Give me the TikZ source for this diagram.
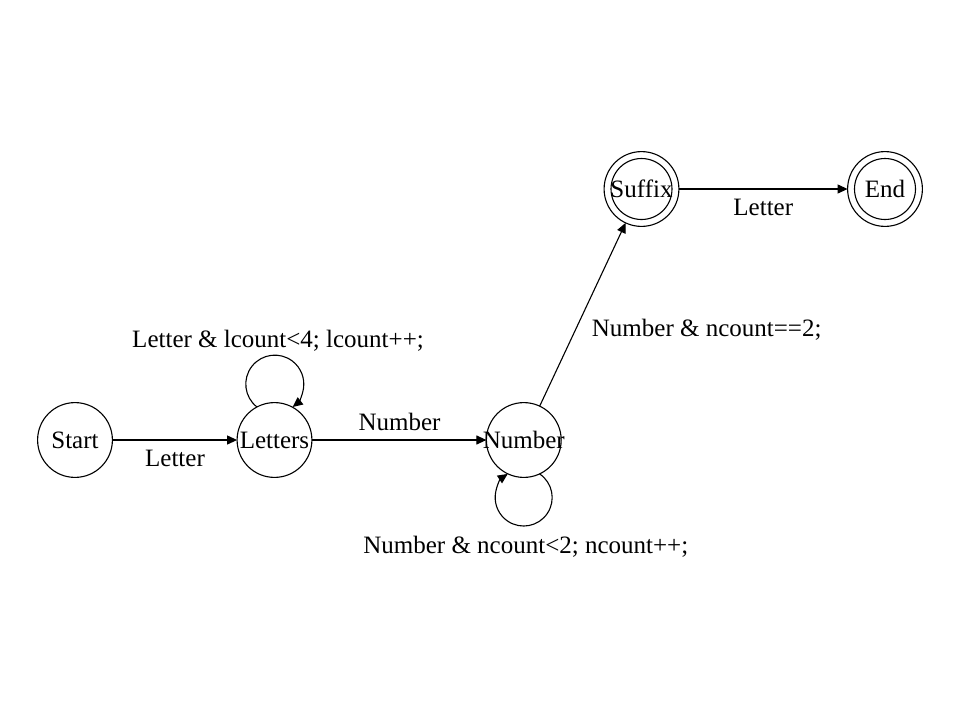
\documentclass[tikz,border=0pt]{standalone}
\usepackage{fontspec}
\setmainfont{Liberation Serif}
\usetikzlibrary{arrows.meta}
\tikzset{
  txt/.style={font=\fontsize{25}{30}\selectfont},
  statenode/.style={circle, draw, line width=1.1pt, minimum size=74.8pt, inner sep=0pt, outer sep=0pt, txt},
  innerring/.style={line width=1.1pt},
  arr/.style={line width=1.1pt, -{Triangle[length=10pt,width=9pt]}},
  lbl/.style={txt, anchor=base, inner sep=0pt}
}
\begin{document}
\begin{tikzpicture}[x=1pt,y=1pt]
\useasboundingbox (0,0) rectangle (974,-725);
% states
\node[statenode] (Start) at (75,-440) {\makebox[0pt]{Start}};
\node[statenode] (Letters) at (274.5,-440) {\makebox[0pt]{Letters}};
\node[statenode] (Number) at (523.8,-440) {\makebox[0pt]{Number}};
\node[statenode] (Suffix) at (641.5,-189) {\makebox[0pt]{Suffix}};
\node[statenode] (End) at (885,-189) {\makebox[0pt]{End}};
\draw[innerring] (Suffix.center) circle[radius=30.5pt];
\draw[innerring] (End.center) circle[radius=30.5pt];
% transitions
\draw[arr] (Start) -- (Letters);
\draw[arr] (Letters) -- (Number);
\draw[arr] (Number) -- (Suffix);
\draw[arr] (Suffix) -- (End);
% loops
\draw[arr] (Letters.118) arc[start angle=232, end angle=-52, radius=29pt];
\draw[arr] (Number.-65) arc[start angle=56, end angle=-236, radius=28.5pt];
% labels
\node[lbl] (l1) at (175,-466) {Letter};
\node[lbl] (l2) at (278,-347) {Letter \& lcount<4; lcount++;};
\node[lbl] (l3) at (399.5,-430) {Number};
\node[lbl] (l4) at (525.8,-553) {Number \& ncount<2; ncount++;};
\node[lbl] (l5) at (706.7,-336.5) {Number \& ncount==2;};
\node[lbl] (l6) at (763.3,-215) {Letter};
\end{tikzpicture}
\end{document}
